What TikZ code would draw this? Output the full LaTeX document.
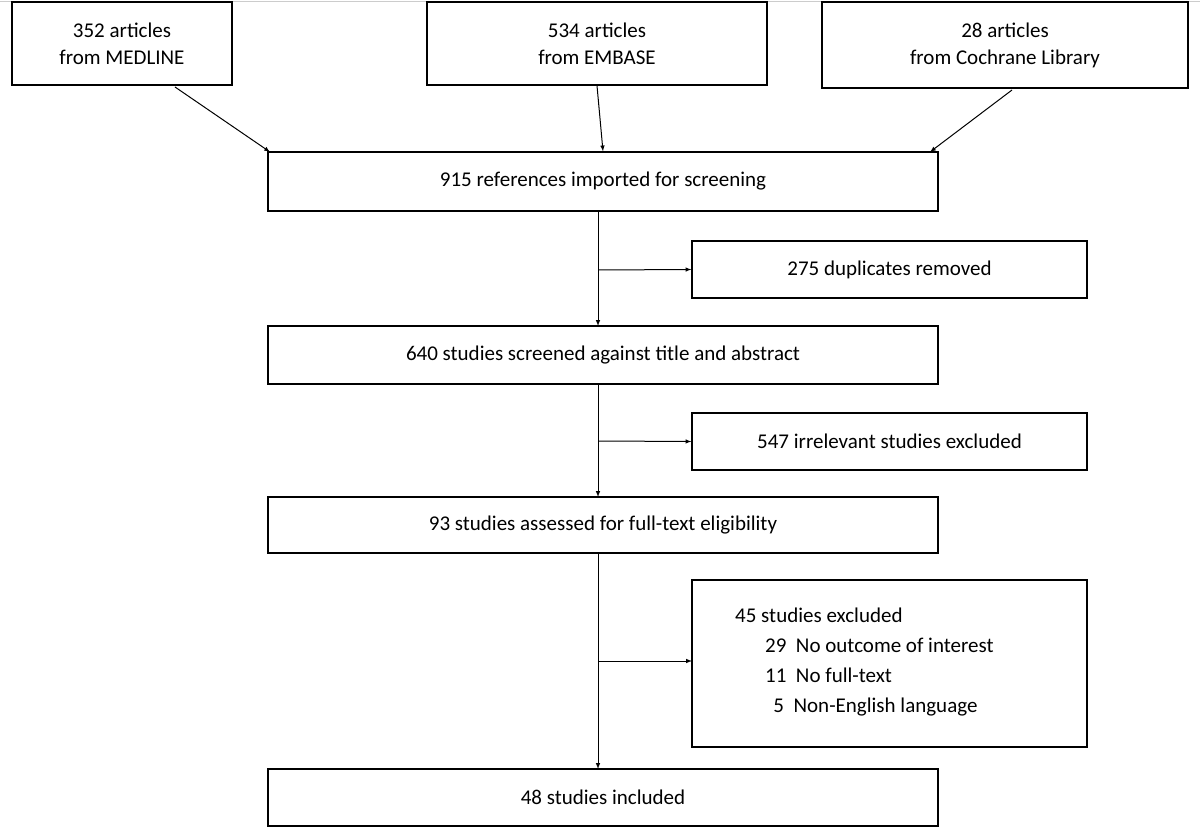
\documentclass[tikz,border=0pt]{standalone}
\usepackage{fontspec}
\setmainfont{Carlito}
\begin{document}
\begin{tikzpicture}[x=1pt,y=-1pt,
  box/.style={draw,line width=1.3pt,align=center,font=\fontsize{21}{27}\selectfont,inner sep=0pt},
  arr/.style={-latex,line width=1pt}]
\useasboundingbox (0,0) rectangle (1200,834);
\draw[gray!40,line width=1pt] (0,2) -- (1200,2);
\newcommand{\bx}[6]{\node[box,minimum width=#4-#2,minimum height=#5-#3] (#1) at ({(#2+#4)/2},{(#3+#5)/2}) {#6};}
\bx{med}{12}{2}{232}{85}{352 articles\\from MEDLINE}
\bx{emb}{427}{2}{767}{85}{534 articles\\from EMBASE}
\bx{coc}{822}{2}{1188}{88}{28 articles\\from Cochrane Library}
\bx{ref}{268}{152}{938}{211}{915 references imported for screening}
\bx{dup}{692}{241}{1087}{298}{275 duplicates removed}
\bx{scr}{268}{326}{938}{384}{640 studies screened against title and abstract}
\bx{irr}{692}{413}{1087}{470}{547 irrelevant studies excluded}
\bx{ful}{268}{497}{938}{553}{93 studies assessed for full-text eligibility}
\bx{exc}{692}{580}{1087}{747}{}
\bx{inc}{268}{769}{938}{826}{48 studies included}
\node[anchor=north west,align=left,font=\fontsize{21}{30}\selectfont,inner sep=0pt] (exct) at (735,608)
 {45 studies excluded\\\hspace*{30pt}29\ \ No outcome of interest\\\hspace*{30pt}11\ \ No full-text\\\hspace*{30pt}\ \,5\ \ Non-English language};
\coordinate (m1) at (175,87);
\coordinate (c1) at (1012,90);
\draw[arr] (m1) -- (270,152);
\draw[arr] (emb.south) -- (ref.north);
\draw[arr] (c1) -- (930,152);
\draw[arr] (598,211) -- (598,326);
\draw[arr] (598,384) -- (598,497);
\draw[arr] (598,553) -- (598,769);
\draw[arr] (598,270) -- (dup.west);
\draw[arr] (598,441) -- (irr.west);
\draw[arr] (598,661) -- (692,661);
\end{tikzpicture}
\end{document}
